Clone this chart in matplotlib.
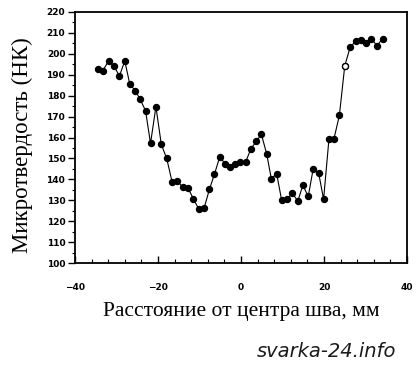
import matplotlib
matplotlib.use("Agg")
import matplotlib.pyplot as plt
from matplotlib.ticker import MultipleLocator

# distance from weld centre, mm
dist = [-34.5, -33.3, -31.9, -30.6, -29.3, -28.0, -26.8, -25.5, -24.3, -23.0,
        -21.8, -20.5, -19.2, -17.9, -16.6, -15.3, -14.0, -12.8, -11.5, -10.2,
        -8.9, -7.6, -6.4, -5.1, -3.9, -2.7, -1.4, -0.2, 1.1, 2.4,
        3.7, 4.9, 6.2, 7.3, 8.6, 9.8, 11.1, 12.4, 13.7, 14.9,
        16.2, 17.4, 18.7, 19.9, 21.2, 22.4, 23.7, 25.0, 26.3, 27.6,
        28.9, 30.1, 31.4, 32.8, 34.1]
# microhardness HK
hk = [192.5, 191.9, 196.5, 194.1, 189.3, 196.5, 185.5, 182.4, 178.2, 172.8,
      157.2, 174.7, 156.7, 150.0, 138.8, 139.1, 136.2, 136.1, 130.8, 126.0,
      126.3, 135.3, 142.5, 150.9, 147.6, 146.0, 147.6, 148.2, 148.2, 154.7,
      158.1, 161.6, 152.1, 140.4, 142.7, 130.0, 130.8, 133.3, 129.7, 137.2,
      131.9, 145.1, 143.2, 130.5, 159.4, 159.4, 170.5, 194.2, 203.0, 206.0,
      206.5, 204.9, 207.0, 203.8, 207.2]
open_idx = 47  # the one hollow marker

fig = plt.figure(figsize=(4.18, 3.65), dpi=100)
ax = fig.add_axes([0.1794, 0.2786, 0.7943, 0.6893])

ax.plot(dist, hk, color='black', lw=0.8, marker='o', ms=4.3,
        mfc='black', mec='black')
ax.plot(dist[open_idx], hk[open_idx], 'o', ms=4.3, mfc='white', mec='black', mew=0.9)

ax.set_xlim(-40, 40)
ax.set_ylim(100, 220)
ax.xaxis.set_major_locator(MultipleLocator(20))
ax.xaxis.set_minor_locator(MultipleLocator(4))
ax.yaxis.set_major_locator(MultipleLocator(10))
ax.yaxis.set_minor_locator(MultipleLocator(5))

ax.tick_params(axis='x', which='major', direction='in', length=5, width=1, pad=14)
ax.tick_params(axis='x', which='minor', direction='in', length=3, width=0.8)
ax.tick_params(axis='y', which='major', direction='out', length=5, width=1, pad=2)
ax.tick_params(axis='y', which='minor', direction='out', length=2, width=0.8)
for lab in ax.get_xticklabels() + ax.get_yticklabels():
    lab.set_fontsize(6.5)
    lab.set_fontweight('bold')
for s in ax.spines.values():
    s.set_linewidth(1.3)

ax.set_xlabel('Расстояние от центра шва, мм', family='Liberation Serif', fontsize=15.5)
ax.set_ylabel('Микротвердость (НК)', family='Liberation Serif', fontsize=16.5)
ax.xaxis.set_label_coords(0.5, -0.192)
ax.xaxis.label.set_va('center')
ax.yaxis.set_label_coords(-0.157, 0.47)
ax.yaxis.label.set_va('center')

fig.text(0.78, 0.038, 'svarka-24.info', family='DejaVu Sans',
         style='italic', fontsize=14, color='#1a1a1a', ha='center', va='center')

fig.savefig('out.png', dpi=100)
